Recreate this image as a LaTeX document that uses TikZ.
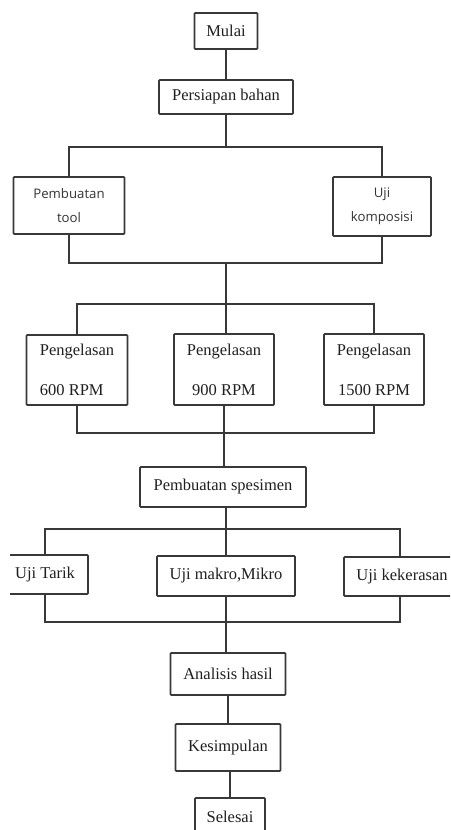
\documentclass[tikz,border=0pt]{standalone}
\usepackage{fontspec}
\setmainfont{Liberation Serif}
\newfontfamily\sansf{Open Sans}
\begin{document}
\begin{tikzpicture}[x=1pt,y=-1pt,
  box/.style={draw=black!78, line width=1.8pt, rectangle, rounded corners=0.8pt, inner sep=0pt,
    text=black!88, font=\fontsize{16.5}{20}\selectfont},
  sbox/.style={box, text=black!80, font=\sansf\fontsize{13.2}{24}\selectfont, align=center},
  conn/.style={draw=black!78, line width=1.8pt}
]
\useasboundingbox (0,0) rectangle (450,830);
\clip (10,0) rectangle (450,830);

% boxes
\node[box, minimum width=63pt, minimum height=36pt] (mulai) at (226,31) {Mulai};
\node[box, minimum width=134pt, minimum height=34pt] (persiapan) at (226,97) {Persiapan bahan};
\node[sbox, minimum width=111pt, minimum height=57pt] (tool) at (69,205.5) {Pembuatan\\tool};
\node[sbox, minimum width=98pt, minimum height=59pt] (komposisi) at (382,206.5) {Uji\\komposisi};
\node[box, minimum width=101pt, minimum height=70pt, align=left] (p600) at (77,370) {Pengelasan\\[20pt]600 RPM};
\node[box, minimum width=100pt, minimum height=71pt, align=center] (p900) at (224,369.5) {Pengelasan\\[20pt]900 RPM};
\node[box, minimum width=100pt, minimum height=71pt, align=center] (p1500) at (374,369.5) {Pengelasan\\[20pt]1500 RPM};
\node[box, minimum width=166pt, minimum height=40pt] (spesimen) at (223,487) {Pembuatan spesimen};
\node[box, minimum width=86pt, minimum height=39pt] (tarik) at (45,574.5) {Uji Tarik};
\node[box, minimum width=138pt, minimum height=40pt] (makro) at (226,576) {Uji makro,Mikro};
\node[box, minimum width=116pt, minimum height=39pt] (kekerasan) at (402,576.5) {Uji kekerasan};
\node[box, minimum width=115pt, minimum height=42pt] (analisis) at (228,674) {Analisis hasil};
\node[box, minimum width=105pt, minimum height=47pt] (kesimpulan) at (228,747.5) {\raisebox{4pt}{Kesimpulan}};
\node[box, minimum width=70pt, minimum height=42pt] (selesai) at (230,819) {\raisebox{4pt}{Selesai}};

% junction coordinates
\coordinate (j1) at (226,147);
\coordinate (j2) at (226,263);
\coordinate (j3) at (226,304);
\coordinate (j4) at (224,433);
\coordinate (j5) at (226,529);
\coordinate (j6) at (226,622);

% connectors
\draw[conn] (mulai.south) -- (mulai.south |- persiapan.north);
\draw[conn] (persiapan.south) -- (persiapan.south |- j1);
\draw[conn] (tool.north) -- (tool.north |- j1) -- (komposisi.north |- j1) -- (komposisi.north);
\draw[conn] (tool.south) -- (tool.south |- j2) -- (komposisi.south |- j2) -- (komposisi.south);
\draw[conn] (j2) -- (j3);
\draw[conn] (p600.north) -- (p600.north |- j3) -- (p1500.north |- j3) -- (p1500.north);
\draw[conn] (j3) -- (j3 |- p900.north);
\draw[conn] (p600.south) -- (p600.south |- j4) -- (p1500.south |- j4) -- (p1500.south);
\draw[conn] (p900.south) -- (p900.south |- spesimen.north);
\draw[conn] (spesimen.south -| j5) -- (j5);
\draw[conn] (tarik.north) -- (tarik.north |- j5) -- ([xshift=-2pt]kekerasan.north |- j5) -- ([xshift=-2pt]kekerasan.north);
\draw[conn] (j5) -- (j5 |- makro.north);
\draw[conn] (tarik.south) -- (tarik.south |- j6) -- ([xshift=-2pt]kekerasan.south |- j6) -- ([xshift=-2pt]kekerasan.south);
\draw[conn] (makro.south) -- (makro.south |- analisis.north);
\draw[conn] (analisis.south) -- (analisis.south |- kesimpulan.north);
\draw[conn] (selesai.north) -- (selesai.north |- kesimpulan.south);
\end{tikzpicture}
\end{document}
